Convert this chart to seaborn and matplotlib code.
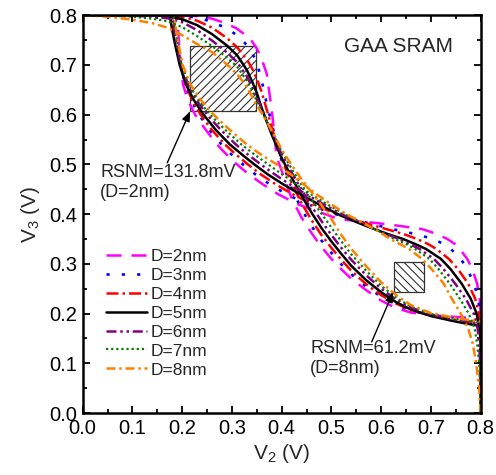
import matplotlib
matplotlib.use("Agg")
import matplotlib.pyplot as plt
import seaborn as sns
from matplotlib.patches import Rectangle

sns.set_style("ticks")
plt.rcParams['font.family'] = ['Liberation Sans', 'DejaVu Sans']
plt.rcParams['mathtext.fontset'] = 'custom'
plt.rcParams['mathtext.rm'] = 'Liberation Sans'
plt.rcParams['mathtext.it'] = 'Liberation Sans:italic'
plt.rcParams['mathtext.default'] = 'regular'
plt.rcParams['hatch.linewidth'] = 0.8

# ---- data ----
series_labels = ["D=2nm", "D=3nm", "D=4nm", "D=5nm", "D=6nm", "D=7nm", "D=8nm"]

v2_grid = [0.00, 0.05, 0.10, 0.14, 0.17, 0.20, 0.23, 0.26, 0.29, 0.31, 0.33,
           0.34, 0.35, 0.36, 0.37, 0.38, 0.39, 0.40, 0.42, 0.44, 0.46, 0.48,
           0.50, 0.52, 0.54, 0.57, 0.60, 0.63, 0.66, 0.70, 0.74, 0.77, 0.80]

v3_d2 = [0.800, 0.800, 0.800, 0.800, 0.800, 0.800, 0.798, 0.793, 0.783, 0.773, 0.758,
         0.748, 0.733, 0.712, 0.682, 0.610, 0.515, 0.487, 0.432, 0.393, 0.362, 0.334,
         0.310, 0.289, 0.270, 0.247, 0.226, 0.211, 0.202, 0.197, 0.194, 0.192, 0.189]
v3_d3 = [0.800, 0.800, 0.800, 0.800, 0.800, 0.799, 0.795, 0.787, 0.773, 0.760, 0.740,
         0.725, 0.705, 0.668, 0.622, 0.582, 0.542, 0.508, 0.452, 0.410, 0.376, 0.347,
         0.322, 0.299, 0.279, 0.254, 0.234, 0.218, 0.206, 0.197, 0.192, 0.189, 0.186]
v3_d4 = [0.800, 0.800, 0.800, 0.800, 0.800, 0.797, 0.789, 0.775, 0.754, 0.736, 0.711,
         0.694, 0.672, 0.645, 0.610, 0.575, 0.541, 0.511, 0.462, 0.422, 0.388, 0.358,
         0.332, 0.308, 0.286, 0.259, 0.237, 0.220, 0.207, 0.196, 0.189, 0.185, 0.181]
v3_d5 = [0.800, 0.800, 0.800, 0.800, 0.798, 0.792, 0.780, 0.762, 0.739, 0.720, 0.690,
         0.668, 0.644, 0.613, 0.586, 0.560, 0.536, 0.513, 0.474, 0.437, 0.403, 0.372,
         0.345, 0.320, 0.296, 0.267, 0.243, 0.223, 0.208, 0.195, 0.186, 0.180, 0.175]
v3_d6 = [0.800, 0.800, 0.799, 0.797, 0.794, 0.786, 0.770, 0.749, 0.725, 0.706, 0.677,
         0.657, 0.635, 0.611, 0.588, 0.565, 0.542, 0.520, 0.484, 0.449, 0.416, 0.386,
         0.358, 0.332, 0.308, 0.277, 0.250, 0.228, 0.212, 0.198, 0.189, 0.184, 0.179]
v3_d7 = [0.800, 0.799, 0.797, 0.793, 0.788, 0.776, 0.758, 0.738, 0.715, 0.697, 0.668,
         0.650, 0.627, 0.607, 0.587, 0.567, 0.546, 0.526, 0.491, 0.459, 0.429, 0.401,
         0.373, 0.345, 0.319, 0.286, 0.256, 0.232, 0.214, 0.199, 0.191, 0.186, 0.182]
v3_d8 = [0.800, 0.797, 0.791, 0.784, 0.775, 0.760, 0.742, 0.726, 0.701, 0.682, 0.656,
         0.637, 0.618, 0.603, 0.586, 0.568, 0.549, 0.530, 0.499, 0.470, 0.444, 0.418,
         0.390, 0.358, 0.330, 0.295, 0.263, 0.237, 0.217, 0.201, 0.193, 0.188, 0.184]

rsnm_mv = [131.8, 61.2]
rsnm_labels = ["RSNM=131.8mV\n(D=2nm)", "RSNM=61.2mV\n(D=8nm)"]

tick_vals = [0.0, 0.1, 0.2, 0.3, 0.4, 0.5, 0.6, 0.7, 0.8]
tick_labels = ["0.0", "0.1", "0.2", "0.3", "0.4", "0.5", "0.6", "0.7", "0.8"]

# ---- styles ----
all_v3 = [v3_d2, v3_d3, v3_d4, v3_d5, v3_d6, v3_d7, v3_d8]
colors = ['#FF00FF', '#0000FF', '#FF0000', '#000000', '#800080', '#008000', '#FF8000']
styles = [(0, (6.0, 4.0)), (0, (1.2, 4.6)), (0, (4.8, 1.6, 1.0, 1.6)), '-',
          (0, (4.0, 1.5, 1.0, 1.5, 1.0, 1.5)), (0, (1.0, 1.3)), (0, (3.6, 1.5, 1.0, 1.5))]
widths = [1.8, 1.9, 1.8, 1.8, 1.8, 1.6, 1.8]

fig = plt.figure(figsize=(4.96, 4.75), dpi=100)
ax = fig.add_axes([0.1667, 0.1305, 0.969 - 0.1667, 0.968 - 0.1305])

# hatched RSNM squares
side1 = rsnm_mv[0] / 1000.0
side2 = rsnm_mv[1] / 1000.0
ax.add_patch(Rectangle((0.216, 0.607), side1, side1, fill=False, hatch='////',
                       edgecolor='#333333', lw=0.9, zorder=1.5))
ax.add_patch(Rectangle((0.6255, 0.2425), side2, side2, fill=False, hatch='\\\\\\\\',
                       edgecolor='#333333', lw=0.9, zorder=1.5))

handles = []
for lab, v3, c, ls, lw in zip(series_labels, all_v3, colors, styles, widths):
    sns.lineplot(x=v2_grid, y=v3, ax=ax, color=c, lw=lw, linestyle=ls,
                 estimator=None, sort=False)
    handles.append(ax.lines[-1])
    # mirrored transfer curve of the other inverter
    sns.lineplot(x=v3, y=v2_grid, ax=ax, color=c, lw=lw, linestyle=ls,
                 estimator=None, sort=False)

ax.set_xlim(0, 0.8)
ax.set_ylim(0, 0.8)
ax.set_xticks(tick_vals)
ax.set_xticklabels(tick_labels)
ax.set_yticks(tick_vals)
ax.set_yticklabels(tick_labels)
ax.set_xticks([0.05, 0.15, 0.25, 0.35, 0.45, 0.55, 0.65, 0.75], minor=True)
ax.set_yticks([0.05, 0.15, 0.25, 0.35, 0.45, 0.55, 0.65, 0.75], minor=True)
ax.tick_params(which='both', direction='in', top=True, right=True, colors='black',
               labelsize=14.5, pad=4)
ax.tick_params(which='major', length=5, width=1.3)
ax.tick_params(which='minor', length=3, width=1.3)
for s in ax.spines.values():
    s.set_color('black')
    s.set_linewidth(1.8)

ax.set_xlabel('V$_2$ (V)', fontsize=15, labelpad=3)
ax.set_ylabel('V$_3$ (V)', fontsize=15, labelpad=5)

ax.text(0.634, 0.737, 'GAA SRAM', fontsize=15, ha='center', va='center')

ax.text(0.035, 0.501, rsnm_labels[0], fontsize=13, ha='left', va='top', linespacing=1.25)
ax.annotate('', xy=(0.216, 0.607), xytext=(0.170, 0.503),
            arrowprops=dict(arrowstyle='-|>,head_length=0.5,head_width=0.2',
                            color='black', lw=1.0, shrinkA=0, shrinkB=0,
                            mutation_scale=12))
ax.text(0.457, 0.147, rsnm_labels[1], fontsize=13, ha='left', va='top', linespacing=1.25)
ax.annotate('', xy=(0.624, 0.243), xytext=(0.581, 0.143),
            arrowprops=dict(arrowstyle='-|>,head_length=0.5,head_width=0.2',
                            color='black', lw=1.0, shrinkA=0, shrinkB=0,
                            mutation_scale=12))

ax.legend(handles=handles, labels=series_labels, loc='upper left',
          bbox_to_anchor=(0.0585, 0.4134), borderaxespad=0, borderpad=0,
          frameon=False, fontsize=12.5, handlelength=2.36, handletextpad=0.2,
          labelspacing=0.22)

fig.savefig('out.png', dpi=100)
